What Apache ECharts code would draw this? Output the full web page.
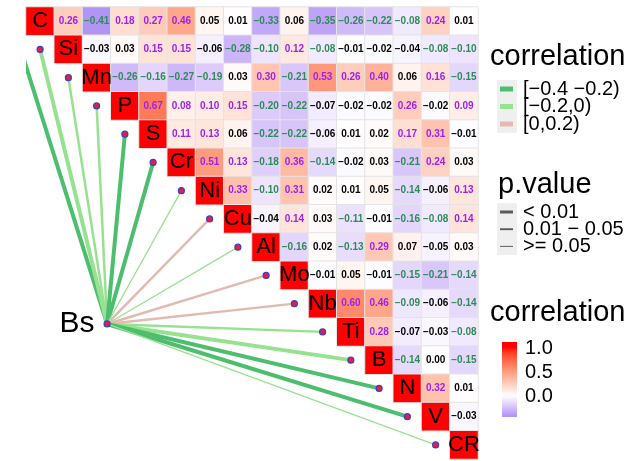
<!DOCTYPE html>
<html><head><meta charset="utf-8">
<script src="https://cdn.jsdelivr.net/npm/echarts@6/dist/echarts.min.js"></script>
<style>html,body{margin:0;padding:0;background:#fff}#c{width:633px;height:461px}</style>
</head><body><div id="c"></div>
<script>
// ---------------- data ----------------
const variables = ['C','Si','Mn','P','S','Cr','Ni','Cu','Al','Mo','Nb','Ti','B','N','V','CR'];
// upper-triangle correlations: row i lists columns i+1 .. 15
const corrC  = [0.26,-0.41,0.18,0.27,0.46,0.05,0.01,-0.33,0.06,-0.35,-0.26,-0.22,-0.08,0.24,0.01];
const corrSi = [-0.03,0.03,0.15,0.15,-0.06,-0.28,-0.10,0.12,-0.08,-0.01,-0.02,-0.04,-0.08,-0.10];
const corrMn = [-0.26,-0.16,-0.27,-0.19,0.03,0.30,-0.21,0.53,0.26,0.40,0.06,0.16,-0.15];
const corrP  = [0.67,0.08,0.10,0.15,-0.20,-0.22,-0.07,-0.02,-0.02,0.26,-0.02,0.09];
const corrS  = [0.11,0.13,0.06,-0.22,-0.22,-0.06,0.01,0.02,0.17,0.31,-0.01];
const corrCr = [0.51,0.13,-0.18,0.36,-0.14,-0.02,0.03,-0.21,0.24,0.03];
const corrNi = [0.33,-0.10,0.31,0.02,0.01,0.05,-0.14,-0.06,0.13];
const corrCu = [-0.04,0.14,0.03,-0.11,-0.01,-0.16,-0.08,0.14];
const corrAl = [-0.16,0.02,-0.13,0.29,0.07,-0.05,0.03];
const corrMo = [-0.01,0.05,-0.01,-0.15,-0.21,-0.14];
const corrNb = [0.60,0.46,-0.09,-0.06,-0.14];
const corrTi = [0.28,-0.07,-0.03,-0.08];
const corrB  = [-0.14,0.00,-0.15];
const corrN  = [0.32,0.01];
const corrV  = [-0.03];
const corrRows = [corrC,corrSi,corrMn,corrP,corrS,corrCr,corrNi,corrCu,corrAl,corrMo,corrNb,corrTi,corrB,corrN,corrV,[]];

const linkSource = 'Bs';
const corrClasses = ['[\u22120.4 \u22120.2)','[\u22120.2,0)','[0,0.2)'];
const pClasses = ['< 0.01','0.01 \u2212 0.05','>= 0.05'];
// class index for each variable's link with Bs
const linkCorrClass = [0,1,1,1,0,0,1,2,1,2,2,1,1,0,0,1];
const linkPClass    = [0,0,1,1,0,0,2,1,2,1,1,1,0,0,0,2];
const colorbarTicks = [1.0, 0.5, 0.0];

// ---------------- style / layout ----------------
const FONT = 'Liberation Sans, Arial, sans-serif';
const gridLeft = 26, gridTop = 7, gridSize = 452, n = variables.length;
const bsNode = [2.37, 10.72]; // anchor position in cell units
const linkColors = ['#4DBE6E','#97E291','#E3BBAE'];
const linkWidths = [4, 2.5, 1.3];
const posTextColor = '#A020F0', negTextColor = '#2E8B57';
const corrMin = -0.41, corrMax = 1;
const lowColor = [178,148,245], highColor = [255,0,0], midColor = [255,255,255];

// Lab interpolation helpers
function toLin(c){c/=255;return c<=0.04045?c/12.92:Math.pow((c+0.055)/1.055,2.4);}
function fromLin(c){c=c<=0.0031308?12.92*c:1.055*Math.pow(c,1/2.4)-0.055;return Math.round(Math.max(0,Math.min(1,c))*255);}
function rgb2lab(rgb){
  const [r,g,b]=rgb.map(toLin);
  let x=(r*0.4124+g*0.3576+b*0.1805)/0.95047, y=(r*0.2126+g*0.7152+b*0.0722), z=(r*0.0193+g*0.1192+b*0.9505)/1.08883;
  const f=t=>t>0.008856?Math.cbrt(t):7.787*t+16/116;
  x=f(x);y=f(y);z=f(z);
  return [116*y-16,500*(x-y),200*(y-z)];
}
function lab2rgb(lab){
  let y=(lab[0]+16)/116, x=lab[1]/500+y, z=y-lab[2]/200;
  const fi=t=>t*t*t>0.008856?t*t*t:(t-16/116)/7.787;
  x=fi(x)*0.95047;y=fi(y);z=fi(z)*1.08883;
  const r=x*3.2406+y*-1.5372+z*-0.4986, g=x*-0.9689+y*1.8758+z*0.0415, b=x*0.0557+y*-0.2040+z*1.0570;
  return [fromLin(r),fromLin(g),fromLin(b)];
}
const labMid=rgb2lab(midColor), labLow=rgb2lab(lowColor), labHigh=rgb2lab(highColor);
function colorFor(v){
  let end, t;
  if (v>=0){end=labHigh;t=Math.min(v/corrMax,1);} else {end=labLow;t=Math.min(v/corrMin,1);}
  const lab=labMid.map((m,k)=>m+(end[k]-m)*t);
  const c=lab2rgb(lab);
  return 'rgb('+c.join(',')+')';
}
const fmt = v => (v<0?'\u2212':'')+Math.abs(v).toFixed(2);

// heatmap data
const heatData = [];
variables.forEach((name,i)=>{
  heatData.push({name:name, value:[i,i,1], label:{fontSize:22, color:'#000', fontWeight:'normal'}});
  corrRows[i].forEach((v,k)=>{
    const j=i+1+k;
    const col = Math.abs(v)>=0.08 ? (v>0?posTextColor:negTextColor) : '#000';
    heatData.push({name:fmt(v), value:[j,i,v], label:{fontSize:10, color:col, fontWeight:'bold'}});
  });
});

// visual map colour stops
const stops=[];
for(let k=0;k<=80;k++){stops.push(colorFor(corrMin+(corrMax-corrMin)*k/80));}

// link data
const linkData = variables.map((name,i)=>({
  coords:[bsNode,[i-1,i]],
  lineStyle:{color:linkColors[linkCorrClass[i]], width:linkWidths[linkPClass[i]], opacity:1}
}));
const nodeData = variables.map((name,i)=>({value:[i-1,i]}));
nodeData.push({value:bsNode, name:linkSource, label:{show:true, formatter:'{b}', position:'left', distance:9, fontSize:30, color:'#000', fontFamily:FONT}});

// legends
const graphics = [];
graphics.push({type:'text', left:490, top:42, style:{text:'correlation', font:'29px '+FONT, fill:'#000'}});
graphics.push({type:'rect', shape:{x:497,y:80,width:20,height:53}, style:{fill:'#EFEFEF'}});
corrClasses.forEach((lab,k)=>{
  const y=89+17.5*k;
  graphics.push({type:'rect', shape:{x:500,y:y-2.5,width:13,height:5}, style:{fill:linkColors[k]}});
  graphics.push({type:'text', x:523, y:y, style:{text:lab, font:'20px '+FONT, fill:'#000', textVerticalAlign:'middle'}});
});
graphics.push({type:'text', left:498, top:170, style:{text:'p.value', font:'29px '+FONT, fill:'#000'}});
graphics.push({type:'rect', shape:{x:497,y:203,width:20,height:52}, style:{fill:'#EFEFEF'}});
pClasses.forEach((lab,k)=>{
  const y=212+17.2*k;
  graphics.push({type:'line', shape:{x1:500,y1:y,x2:513,y2:y}, style:{stroke:'#5A5A5A', lineWidth:linkWidths[k]*0.75}});
  graphics.push({type:'text', x:523, y:y, style:{text:lab, font:'20px '+FONT, fill:'#000', textVerticalAlign:'middle'}});
});
graphics.push({type:'text', left:490, top:298, style:{text:'correlation', font:'29px '+FONT, fill:'#000'}});
const barTop=342, barBot=417, y1=348, y0=396;
const vAt = y => (y0-y)/(y0-y1);
const cbStops=[];
for(let k=0;k<=30;k++){const y=barTop+(barBot-barTop)*k/30; cbStops.push({offset:k/30,color:colorFor(Math.max(corrMin,Math.min(corrMax,vAt(y))))});}
graphics.push({type:'rect', shape:{x:502,y:barTop,width:15,height:barBot-barTop}, style:{fill:new echarts.graphic.LinearGradient(0,0,0,1,cbStops)}});
colorbarTicks.forEach(t=>{
  const y=y0-(y0-y1)*t;
  graphics.push({type:'text', x:525, y:y, style:{text:t.toFixed(1), font:'20px '+FONT, fill:'#000', textVerticalAlign:'middle'}});
});

const chart = echarts.init(document.getElementById('c'), null, {renderer:'canvas'});
chart.setOption({
  animation:false,
  textStyle:{fontFamily:FONT},
  grid:[{left:gridLeft,top:gridTop,width:gridSize,height:gridSize},{left:gridLeft,top:gridTop,width:gridSize,height:gridSize}],
  xAxis:[{type:'category',gridIndex:0,data:variables,show:false},{type:'value',gridIndex:1,min:-0.5,max:n-0.5,show:false}],
  yAxis:[{type:'category',gridIndex:0,data:variables,inverse:true,show:false},{type:'value',gridIndex:1,min:-0.5,max:n-0.5,inverse:true,show:false}],
  visualMap:{type:'continuous',show:false,min:corrMin,max:corrMax,dimension:2,seriesIndex:0,inRange:{color:stops}},
  series:[
    {type:'heatmap',xAxisIndex:0,yAxisIndex:0,data:heatData,
     itemStyle:{borderColor:'#E4E4E4',borderWidth:1},
     label:{show:true,formatter:'{b}',fontFamily:FONT},
     emphasis:{disabled:true}},
    {type:'lines',coordinateSystem:'cartesian2d',xAxisIndex:1,yAxisIndex:1,data:linkData,silent:true,z:3},
    {type:'scatter',xAxisIndex:1,yAxisIndex:1,data:nodeData,symbolSize:6,z:4,
     itemStyle:{color:'#E8202A',borderColor:'#3B3BDB',borderWidth:1.2,opacity:1},
     emphasis:{disabled:true}}
  ],
  graphic:{elements:graphics}
});
</script>
</body></html>
